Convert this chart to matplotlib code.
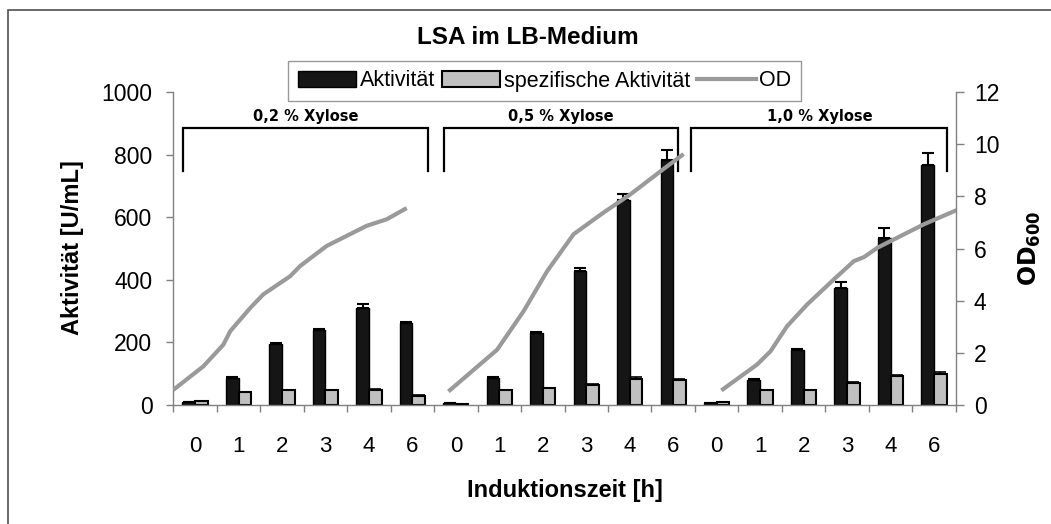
import matplotlib
matplotlib.use("Agg")
import matplotlib.pyplot as plt
from matplotlib.patches import Rectangle, Patch
from matplotlib.lines import Line2D
import numpy as np

plt.rcParams['font.family'] = ['Liberation Sans', 'DejaVu Sans']

# --- data -------------------------------------------------------------
times = ["0", "1", "2", "3", "4", "6"]
xylose = ["0,2 % Xylose", "0,5 % Xylose", "1,0 % Xylose"]

aktivitaet = [8, 85, 194, 239, 311, 263,
              5, 85, 229, 427, 656, 784,
              6, 79, 175, 375, 535, 767]
aktivitaet_err = [2, 3, 3, 3, 13, 3,
                  1, 3, 3, 10, 18, 32,
                  1, 3, 3, 17, 31, 39]
spez_aktivitaet = [12, 42, 47, 47, 49, 29,
                   3, 47, 53, 65, 84, 79,
                   10, 47, 47, 71, 93, 100]
spez_err = [1, 1, 2, 2, 2, 2,
            1, 2, 2, 2, 4, 3,
            1, 2, 2, 3, 4, 4]

# OD600 growth curves (position along the category axis, OD value)
od_pos_02 = [0.0, 0.69, 1.15, 1.31, 1.77, 2.07, 2.69, 2.92, 3.53, 4.45, 4.91, 5.37]
od_02 = [0.58, 1.48, 2.31, 2.83, 3.72, 4.24, 4.94, 5.33, 6.10, 6.87, 7.12, 7.55]
od_pos_05 = [6.33, 7.45, 8.06, 8.60, 9.21, 9.90, 10.52, 11.28, 11.74]
od_05 = [0.52, 2.12, 3.60, 5.13, 6.55, 7.38, 8.08, 9.05, 9.62]
od_pos_10 = [12.61, 13.43, 13.74, 14.12, 14.58, 15.20, 15.66, 15.89, 16.20, 17.27, 18.02]
od_10 = [0.56, 1.55, 2.06, 3.02, 3.85, 4.82, 5.52, 5.67, 6.03, 6.93, 7.47]

# --- layout -------------------------------------------------------------
W, H = 1051, 524
fig = plt.figure(figsize=(W / 100, H / 100), dpi=100)
ax = fig.add_axes([173.3 / W, 1 - 405 / H, 782.4 / W, 313 / H])
ax2 = ax.twinx()

axis_grey = '#808080'
black = '#151515'
bar_grey = '#c0c0c0'
line_grey = '#9a9a9a'

n = len(aktivitaet)
x = np.arange(n) + 0.5
bw = 0.29

ax.bar(x - bw / 2, aktivitaet, width=bw, color=black, edgecolor='black',
       linewidth=1.0, zorder=2)
ax.bar(x + bw / 2, spez_aktivitaet, width=bw, color=bar_grey, edgecolor='black',
       linewidth=1.5, zorder=2)
ax.errorbar(x - bw / 2, aktivitaet, yerr=[np.zeros(n), aktivitaet_err], fmt='none',
            ecolor='black', elinewidth=1.5, capsize=4.5, capthick=1.5, zorder=3)
ax.errorbar(x + bw / 2, spez_aktivitaet, yerr=[np.zeros(n), spez_err], fmt='none',
            ecolor='black', elinewidth=1.2, capsize=4.5, capthick=1.2, zorder=3)

for pos, od in [(od_pos_02, od_02), (od_pos_05, od_05), (od_pos_10, od_10)]:
    ax2.plot(pos, od, color=line_grey, linewidth=3.0, solid_capstyle='butt',
             solid_joinstyle='round')

ax.set_xlim(0, n)
ax.set_ylim(0, 1000)
ax2.set_ylim(0, 12)

ax.set_yticks(np.arange(0, 1001, 200))
ax2.set_yticks(np.arange(0, 13, 2))
ax.set_xticks(np.arange(0, n + 1))
ax.set_xticklabels([])
ax.set_xticks(x, minor=True)
ax.set_xticklabels(times * 3, minor=True)

for a in (ax, ax2):
    for s in a.spines.values():
        s.set_color(axis_grey)
        s.set_linewidth(1.0)
    a.spines['top'].set_visible(False)
ax.spines['right'].set_visible(False)
ax2.spines['left'].set_visible(False)
ax2.spines['bottom'].set_visible(False)

ax.tick_params(axis='y', direction='out', length=5, width=1, color=axis_grey,
               labelsize=16.5, pad=10)
ax2.tick_params(axis='y', direction='out', length=6, width=1, color=axis_grey,
                labelsize=16.5, pad=7)
ax.tick_params(axis='x', which='major', direction='out', length=5, width=1,
               color=axis_grey)
ax.tick_params(axis='x', which='minor', length=0, labelsize=16, pad=22)

# brackets marking the xylose concentrations
bracket_span = [(0.22, 5.86), (6.23, 11.62), (11.92, 17.81)]
bracket_top, bracket_bottom, label_y = 886, 748, 922
for (x0, x1), name in zip(bracket_span, xylose):
    ax.plot([x0, x0, x1, x1], [bracket_bottom, bracket_top, bracket_top, bracket_bottom],
            color='black', linewidth=1.6, zorder=4, solid_joinstyle='miter')
    ax.text((x0 + x1) / 2, label_y, name, ha='center', va='center',
            fontsize=10.5, fontweight='bold', family='DejaVu Sans', zorder=4)

# titles and axis labels
fig.text(528 / W, 1 - 37 / H, "LSA im LB-Medium", ha='center', va='center',
         fontsize=17.5, fontweight='bold')
fig.text(565 / W, 1 - 490 / H, "Induktionszeit [h]", ha='center', va='center',
         fontsize=17, fontweight='bold')
fig.text(72 / W, 1 - 248 / H, "Aktivität [U/mL]", ha='center', va='center',
         rotation=90, fontsize=17, fontweight='bold')
fig.text(1030 / W, 1 - 248 / H, r"$\mathbf{OD_{600}}$", ha='center', va='center',
         rotation=90, fontsize=17, fontweight='bold')

# legend
handles = [Patch(facecolor=black, edgecolor='black', linewidth=1.0),
           Patch(facecolor=bar_grey, edgecolor='black', linewidth=1.5),
           Line2D([], [], color=line_grey, linewidth=3.0)]
leg = fig.legend(handles, ["Aktivität", "spezifische Aktivität", "OD"],
                 loc='center', bbox_to_anchor=(544.5 / W, 1 - 81 / H), ncol=3,
                 fontsize=15.5, frameon=True, fancybox=False, shadow=False,
                 handlelength=2.7, handleheight=0.7, handletextpad=0.15,
                 columnspacing=0.35, borderpad=0.45, borderaxespad=0)
leg.get_frame().set_edgecolor(axis_grey)
leg.get_frame().set_linewidth(1.0)

# outer chart frame
fig.patches.append(Rectangle((8 / W, -0.05), 1.1, 1 - 10 / H + 0.05,
                             transform=fig.transFigure, fill=False,
                             edgecolor='#505050', linewidth=1.2))

fig.savefig("out.png", dpi=100, facecolor='white')
